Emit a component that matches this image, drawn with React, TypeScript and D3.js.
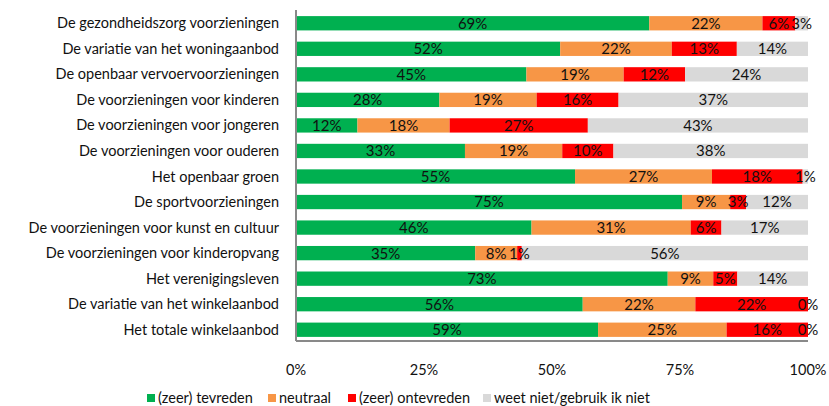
import React from 'react';
import * as d3 from 'd3';

// Rows, top to bottom
const categories = [
  'De gezondheidszorg voorzieningen',
  'De variatie van het woningaanbod',
  'De openbaar vervoervoorzieningen',
  'De voorzieningen voor kinderen',
  'De voorzieningen voor jongeren',
  'De voorzieningen voor ouderen',
  'Het openbaar groen',
  'De sportvoorzieningen',
  'De voorzieningen voor kunst en cultuur',
  'De voorzieningen voor kinderopvang',
  'Het verenigingsleven',
  'De variatie van het winkelaanbod',
  'Het totale winkelaanbod',
];

const tevreden = [69, 51.6, 45, 28, 12, 33, 54.5, 75.4, 46, 35, 72.6, 56, 59];
const neutraal = [22.1, 21.8, 19, 19, 18, 19, 26.75, 9.4, 31.1, 8.2, 8.9, 22, 25.1];
const ontevreden = [6.4, 12.7, 12, 16, 27, 10, 17.7, 3.1, 6, 0.9, 4.7, 22, 15.9];
const weetNiet = [2.5, 13.9, 24, 37, 43, 38, 1.05, 12.1, 16.9, 55.9, 13.8, 0, 0];

const seriesNames = ['(zeer) tevreden', 'neutraal', '(zeer) ontevreden', 'weet niet/gebruik ik niet'];
const seriesColors = ['#00B050', '#F79646', '#FF0000', '#D9D9D9'];
const xTicks = [0, 25, 50, 75, 100];

const W = 829;
const H = 406;
const FONT = 'Lato, "Open Sans", sans-serif';

export default function App() {
  const left = 296;
  const right = 808;
  const top = 10;
  const bottom = 341;

  const x = d3.scaleLinear().domain([0, 100]).range([left, right]);
  const y = d3.scaleBand<string>().domain(categories).range([top + 1, bottom + 1]).paddingInner(0.44).paddingOuter(0.2);

  const rows = categories.map((c, i) => ({
    cat: c,
    s0: tevreden[i],
    s1: neutraal[i],
    s2: ontevreden[i],
    s3: weetNiet[i],
  }));
  const stack = d3.stack<any>().keys(['s0', 's1', 's2', 's3'])(rows);

  const legendX = [147, 268, 348, 483];

  return (
    <svg width={W} height={H} style={{ position: 'absolute', left: 0, top: 0, background: '#fff' }} fontFamily={FONT}>
      {/* category labels */}
      {categories.map((c) => (
        <text key={c} x={279} y={(y(c) as number) + y.bandwidth() / 2} dy="0.35em" textAnchor="end" fontSize={14.5} fill="#111">
          {c}
        </text>
      ))}

      {/* stacked bars */}
      {stack.map((layer, si) => (
        <g key={si}>
          {layer.map((d, i) => (
            <rect
              key={i}
              x={x(d[0])}
              y={y(categories[i])}
              width={Math.max(0, x(d[1]) - x(d[0]))}
              height={y.bandwidth()}
              fill={seriesColors[si]}
            />
          ))}
        </g>
      ))}

      {/* value labels */}
      {stack.map((layer, si) => (
        <g key={'l' + si}>
          {layer.map((d, i) => (
            <text
              key={i}
              x={x((d[0] + d[1]) / 2)}
              y={(y(categories[i]) as number) + y.bandwidth() / 2}
              dy="0.36em"
              textAnchor="middle"
              fontSize={15}
              fill="#111"
            >
              {Math.round(d[1] - d[0])}%
            </text>
          ))}
        </g>
      ))}

      {/* axes */}
      <line x1={left} x2={left} y1={top} y2={bottom} stroke="#898989" strokeWidth={2} />
      <line x1={left} x2={right} y1={bottom} y2={bottom} stroke="#898989" strokeWidth={2} />
      {xTicks.map((t) => (
        <text key={t} x={x(t)} y={375} textAnchor="middle" fontSize={14.5} fill="#111">
          {t}%
        </text>
      ))}

      {/* legend */}
      {seriesNames.map((n, i) => (
        <g key={n} transform={`translate(${legendX[i]},394)`}>
          <rect width={8} height={8} fill={seriesColors[i]} />
          <text x={11} y={4} dy="0.36em" fontSize={14.5} fill="#111">
            {n}
          </text>
        </g>
      ))}
    </svg>
  );
}
